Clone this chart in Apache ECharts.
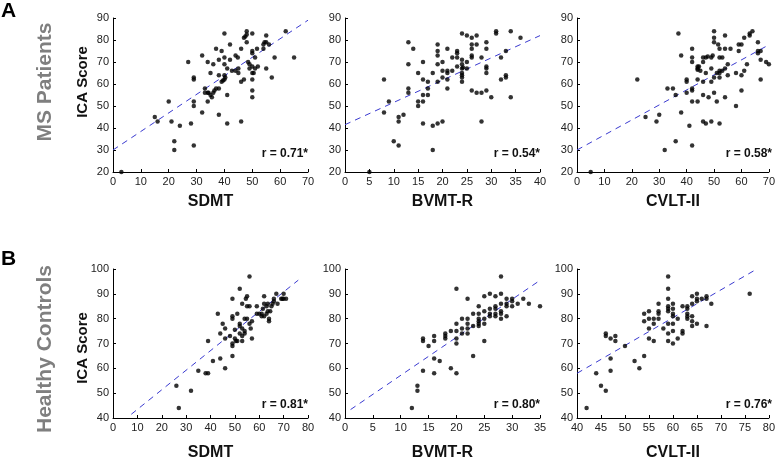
<!DOCTYPE html>
<html>
<head>
<meta charset="utf-8">
<script src="https://cdn.jsdelivr.net/npm/echarts@6/dist/echarts.min.js"></script>
<style>
  html, body { margin: 0; padding: 0; background: #fff; }
  #chart { width: 778px; height: 462px; }
</style>
</head>
<body>
<div id="chart"></div>
<script>
// values: [test score, ICA score]
var msSdmt = [[3,20],[15,45],[16,43],[20,52],[21,43],[22,34],[22,30],[24,41],[27,70],[28,42],[29,63],[29,62],[29,52],[29,50],[29,32],
  [32,73],[32,47],[33,58],[33,56],[34,56],[34,52],[34,70],[34.3,56],[35,55],[35,65],[35.5,54],[36,69],[36,56],[37,76],[36.4,57],[37,58],[38,58],
  [38,71],[38,46],[38,64],[39,75],[39,61],[39.5,61.6],[40,83],[40,72],[40,69],[40,64],[40,62],[40.3,63],[41,67],[41,55],[41,42],[42,78],[42,71],
  [42.7,66],[44,73],[44,66],[45,67],[44.8,72],[45,65],[46,76],[46,61],[46,43],[47,62],[47,81],[47.5,81.6],[48,84],[48,79],[48,82.5],[48.5,70],
  [49,69],[49,67],[50,83],[50,75],[50,74],[50,65],[50,62],[50,57],[50,54],[50,68],[50.5,65],[51,67],[51,72],[51.7,76],[52,68],[54,76],[54,78],
  [54.4,79],[55,82],[55,67],[55,79],[56,78],[57,63],[58,72],[62,84],[65,72]];
var msBvmt = [[5,20],[8,62],[8,47],[9,52],[10,34],[11,32],[11,45],[11,43],[12,46],[13,79],[13,69],[13,58],[13,56],[14,76],[15,65],[15,52],
  [15,50],[16,70],[16,62],[16,55],[16,52],[16,42],[17,61],[17,58],[17,55],[18,41],[18,65],[18,30],[19,42],[19,78],[19,75],[19,73],[19,69],
  [19,61],[20,43],[20,66],[20,70],[20,63],[21,76],[21,66],[21,65],[21,62],[21,58],[22,72],[22,66],[23,72],[23,75],[23,74],[23,68],[24,83],
  [24,71],[24,69],[24,67],[24,65],[24,64],[24,63],[24,61],[24.2,67.5],[25,82],[25,70],[25,67],[26,81],[26,78],[26,76],[26,73],[26,72],[26,57],
  [27,82],[27,78],[27,56],[28,72],[28,56],[28,43],[29,79],[29,76],[29,68],[29,67],[29,65],[29,57],[30,54],[31,84],[31,83],[32,62],[32,72],
  [33,75],[33,64],[33,63],[34,84],[34,54],[36,81]];
var msCvlt = [[5,20],[22,62],[25,45],[29,43],[30,46],[32,30],[33,58],[35,58],[36,34],[36,55],[37,83],[38,73],[38,47],[40,62],[40,61],[40,56],
  [41,41],[42,76],[42,72],[42,70],[42,58],[42,57],[42,52],[42,32],[44,67],[44,66.5],[44,62],[44,52],[44,68],[44.5,68],[45,66],[46,70],[46,72],
  [46,55],[46,43],[46,61],[47,72],[47,42],[47,65],[47.7,72.5],[48,54],[49,67],[49,72],[49,61],[49,43],[49.5,73],[50,84],[50,81],[50,79],[50,56],
  [50,63],[51,65],[51,52],[51.5,78],[52,65],[52,66],[52,72],[52,42],[52,76],[52,63],[53,72],[53,66],[54,82],[54,76],[54,67],[54,54],[55,64],
  [55,69],[56,76],[58,65],[58,50],[59,75],[59,78],[60,78],[60,64],[60,57],[61,66],[61,81],[62,69],[63,82],[63,83],[64,84],[66,79],[66,75],
  [66,74],[67,75],[67,71],[67,62],[69,70],[70,69]];
var hcSdmt = [[27,44],[26,53],[32,51],[35,59],[38,58],[39,58],[39,71],[41,63],[43,82],[44,74],[44,64],[45,78],[46,76],[46,60],[46,72],[48,73],
  [49,88],[49,81],[49,80],[49,69],[49,70],[49,65],[50,72],[50,75.5],[50.4,71],[51,82],[51,71],[52,92],[52,78],[52,77],[53,76],[52,74],[53,73],
  [53,71],[53,86],[54,80],[54,75],[54,74],[54.5,88],[55,89],[55,85],[55,80],[56,97],[56,85],[56,78],[56.5,76],[57,72],[57,79],[59,85],[59,82],
  [60,82],[61,82],[62,89],[62,86],[62,81],[63,82],[63,85],[63.5,83],[63.5,86],[64,79],[64.5,83],[65,85],[65.5,86],[66,88],[66,87],[67,90],
  [67.5,86],[69,88],[69.5,88],[70,90],[70,88],[71,88],[64,80],[61.5,84],[61,81]];
var hcBvmt = [[12,44],[13,53],[13,51],[14,72],[14,71],[14,59],[15,69],[16,73],[16,71],[16,64],[16,58],[17,63],[18,74],[18,73],[18,72],[19,75],
  [19,60],[20,92],[20,78],[20,75],[20,72],[20,70],[20,58],[21,80],[21,76],[21,74],[22,88],[22,80],[22,78],[22,76],[22,74],[23,82],[23,65],
  [23,77],[24,85],[24,82],[24,80],[24,79],[24,78],[24,77],[25,89],[25,83],[25,80],[25,78],[25,71],[26,90],[26,84],[26,82],[26,81],[27,89],
  [27,85],[27,84],[27,82],[27,81],[28,97],[28,90],[28,86],[28,83],[28,82],[28,80],[29,88],[29,86],[29,85],[29,81],[30,88],[30,87],[30,85],
  [31,86],[32,88],[33,86],[35,85]];
var hcCvlt = [[42,44],[44,58],[45,53],[46,51],[46,74],[46,73],[47,72],[47,64],[47,59],[48,73],[48,71],[50,69],[52,63],[53,60],[54,82],[54,79],
  [54,65],[55,83],[55,80],[55,76],[55,72],[56,80],[56,78],[56,71],[57,86],[57,83],[57,82],[57,80],[58,76],[59,97],[59,92],[59,88],[59,85],
  [59,84],[59,83],[59,78],[59,74],[59,71],[60,86],[60,84],[60,82],[60,81],[60,78],[60,75],[60,70],[61,80],[61,72],[62,85],[62,74],[62,75],
  [63,85],[63,84],[63,82],[63,81],[63,80],[64,86],[64,81],[64,79],[64,77],[64,89],[65,90],[65,88],[65,87],[65,78],[66,88],[67,89],[67,88],
  [67,77],[68,86],[76,90]];

// regression line end points
var msSdmtFit = [[0,30],[70,89]];
var msBvmtFit = [[0,41.5],[40,82]];
var msCvltFit = [[0,30],[70,77.8]];
var hcSdmtFit = [[7.5,41.5],[76,95.5]];
var hcBvmtFit = [[1,43.4],[35.5,96.2]];
var hcCvltFit = [[40,58],[77.5,100]];

var rLabels = ['r = 0.71*', 'r = 0.54*', 'r = 0.58*', 'r = 0.81*', 'r = 0.80*', 'r = 0.76*'];
var testNames = ['SDMT', 'BVMT-R', 'CVLT-II'];
var xRanges = [[0,70,10],[0,40,5],[0,70,10],[0,80,10],[0,35,5],[40,80,5]];
var yRanges = [[20,90,10],[40,100,10]];
var rowTitles = ['MS Patients', 'Healthy Controls'];
var panelLetters = ['A', 'B'];

var font = 'Liberation Sans, Arial, sans-serif';
var panels = [msSdmt, msBvmt, msCvlt, hcSdmt, hcBvmt, hcCvlt];
var fits = [msSdmtFit, msBvmtFit, msCvltFit, hcSdmtFit, hcBvmtFit, hcCvltFit];

var colLeft = [113, 345, 577];
var rowTop = [18, 269];
var gridW = 195, gridH = 154;

var grids = [], xAxes = [], yAxes = [], series = [], graphics = [];

panels.forEach(function (pts, i) {
  var row = Math.floor(i / 3), col = i % 3;
  var xr = xRanges[i], yr = yRanges[row];
  grids.push({ left: colLeft[col], top: rowTop[row], width: gridW, height: gridH + row });
  xAxes.push({
    gridIndex: i, type: 'value', min: xr[0], max: xr[1], interval: xr[2],
    name: testNames[col], nameLocation: 'middle', nameGap: row ? 27 : 22,
    nameTextStyle: { fontFamily: font, fontWeight: 'bold', fontSize: 16, color: '#111' },
    axisLine: { lineStyle: { color: '#000', width: 1 } },
    axisTick: { inside: true, length: 3, lineStyle: { color: '#000' } },
    axisLabel: { fontFamily: font, fontSize: 11, color: '#222', margin: 4 },
    splitLine: { show: false }
  });
  yAxes.push({
    gridIndex: i, type: 'value', min: yr[0], max: yr[1], interval: yr[2],
    axisLine: { show: true, lineStyle: { color: '#000', width: 1 } },
    axisTick: { show: true, inside: true, length: 3, lineStyle: { color: '#000' } },
    axisLabel: { fontFamily: font, fontSize: 11, color: '#222', margin: 4 },
    splitLine: { show: false }
  });
  series.push({
    type: 'scatter', xAxisIndex: i, yAxisIndex: i, data: pts,
    symbolSize: 4.5, itemStyle: { color: '#000' }, silent: true, z: 3
  });
  series.push({
    type: 'line', xAxisIndex: i, yAxisIndex: i, data: fits[i],
    symbol: 'none', silent: true, z: 2,
    lineStyle: { color: '#3a3ad0', width: 1, type: [6, 5] }
  });
  graphics.push({
    type: 'text', right: 778 - (colLeft[col] + gridW), top: rowTop[row] + gridH - 24,
    style: { text: rLabels[i], font: 'bold 12px ' + font, fill: '#111' }
  });
});

rowTitles.forEach(function (t, r) {
  var cy = r ? 349 : 82;
  graphics.push({
    type: 'text', x: 45, y: cy, rotation: Math.PI / 2,
    style: { text: t, font: 'bold 21px ' + font, fill: '#7f7f7f', align: 'center', verticalAlign: 'middle' }
  });
  graphics.push({
    type: 'text', x: 83, y: r ? 348 : 82, rotation: Math.PI / 2,
    style: { text: 'ICA Score', font: 'bold 15px ' + font, fill: '#111', align: 'center', verticalAlign: 'middle' }
  });
  graphics.push({
    type: 'text', x: 1, y: r ? 249 : 1,
    style: { text: panelLetters[r], font: 'bold 21px ' + font, fill: '#000' }
  });
});

var chart = echarts.init(document.getElementById('chart'));
chart.setOption({
  animation: false,
  backgroundColor: '#fff',
  grid: grids,
  xAxis: xAxes,
  yAxis: yAxes,
  series: series,
  graphic: graphics
});
</script>
</body>
</html>
